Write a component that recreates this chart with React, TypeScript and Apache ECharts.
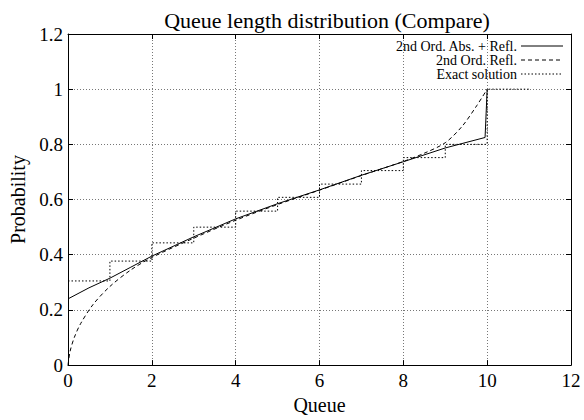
import React, { useEffect, useRef } from "react";
import * as echarts from "echarts";

const titleText = "Queue length distribution (Compare)";
const xName = "Queue";
const yName = "Probability";
const legendNames = ["2nd Ord. Abs. + Refl.", "2nd Ord. Refl.", "Exact solution"];

const absReflX = [0, 0.5, 1, 1.5, 2, 3, 4, 5, 6, 7, 8, 9, 9.95, 10];
const absReflY = [0.24, 0.28, 0.315, 0.355, 0.395, 0.465, 0.53, 0.585, 0.635, 0.688, 0.737, 0.787, 0.825, 1.0];

const reflX = [0, 0.05, 0.15, 0.3, 0.6, 1, 1.5, 2, 3, 4, 5, 6, 7, 8, 8.5, 9, 9.4, 9.75, 10];
const reflY = [0, 0.05, 0.1, 0.15, 0.22, 0.285, 0.345, 0.39, 0.46, 0.525, 0.582, 0.634, 0.687, 0.738, 0.768, 0.806, 0.865, 0.94, 1.0];

const exactX = [0, 1, 2, 3, 4, 5, 6, 7, 8, 9, 10, 11];
const exactY = [0.305, 0.377, 0.443, 0.5, 0.558, 0.608, 0.656, 0.705, 0.752, 0.8, 1.0, 1.0];

const FONT = "Liberation Serif";
const zip = (xs: number[], ys: number[]) => xs.map((x, i) => [x, ys[i]]);

export default function App() {
  const ref = useRef<HTMLDivElement>(null);
  useEffect(() => {
    document.body.style.margin = "0";
    const chart = echarts.init(ref.current!, null, { renderer: "svg" });
    const gridLine = { show: true, lineStyle: { color: "#777", width: 1, type: [1, 2] as any } };
    const axisLine = { show: true, onZero: false, lineStyle: { color: "#000", width: 1 } };
    const tick = { show: true, inside: true, length: 5, lineStyle: { color: "#000" } };
    const lx1 = 521, lx2 = 563, ltx = 517;
    const rows = [46, 60, 74];
    const dashes = [null, [4, 3], [1.5, 2]];
    const legendEls: any[] = [];
    rows.forEach((y, i) => {
      legendEls.push({
        type: "text",
        x: ltx,
        y,
        style: { text: legendNames[i], font: `14px "${FONT}"`, fill: "#000", align: "right", verticalAlign: "middle" },
      });
      legendEls.push({
        type: "line",
        shape: { x1: lx1, y1: y, x2: lx2, y2: y },
        style: { stroke: "#000", lineWidth: 1, lineDash: dashes[i] || undefined },
      });
    });
    chart.setOption({
      animation: false,
      backgroundColor: "#fff",
      title: {
        text: titleText,
        left: 322,
        top: 4,
        textAlign: "center",
        textStyle: { fontFamily: FONT, fontSize: 22, fontWeight: "normal", color: "#000" },
      },
      grid: { left: 68, right: 13, top: 34, bottom: 51 },
      xAxis: [
        {
          type: "value", min: 0, max: 12, interval: 2, position: "bottom",
          axisLine, axisTick: tick, splitLine: gridLine,
          axisLabel: { fontFamily: FONT, fontSize: 19, color: "#000", margin: 6 },
          name: xName, nameLocation: "middle", nameGap: 27,
          nameTextStyle: { fontFamily: FONT, fontSize: 20, color: "#000" },
        },
        {
          type: "value", min: 0, max: 12, interval: 2, position: "top",
          axisLine, axisTick: tick, splitLine: { show: false }, axisLabel: { show: false },
        },
      ],
      yAxis: [
        {
          type: "value", min: 0, max: 1.2, interval: 0.2, position: "left",
          axisLine, axisTick: tick, splitLine: gridLine,
          axisLabel: { fontFamily: FONT, fontSize: 19, color: "#000", margin: 5 },
          name: yName, nameLocation: "middle", nameGap: 38,
          nameTextStyle: { fontFamily: FONT, fontSize: 20, color: "#000" },
        },
        {
          type: "value", min: 0, max: 1.2, interval: 0.2, position: "right",
          axisLine, axisTick: tick, splitLine: { show: false }, axisLabel: { show: false },
        },
      ],
      series: [
        {
          name: legendNames[0], type: "line", data: zip(absReflX, absReflY), symbol: "none",
          lineStyle: { color: "#000", width: 1 }, z: 5,
        },
        {
          name: legendNames[1], type: "line", data: zip(reflX, reflY), symbol: "none", smooth: 0.3,
          lineStyle: { color: "#000", width: 1, type: [4, 3] }, z: 4,
        },
        {
          name: legendNames[2], type: "line", data: zip(exactX, exactY), symbol: "none", step: "end",
          lineStyle: { color: "#000", width: 1, type: [1.5, 2] }, z: 3,
        },
      ],
      graphic: legendEls,
    });
    return () => chart.dispose();
  }, []);
  return <div ref={ref} style={{ width: 584, height: 420 }} />;
}
